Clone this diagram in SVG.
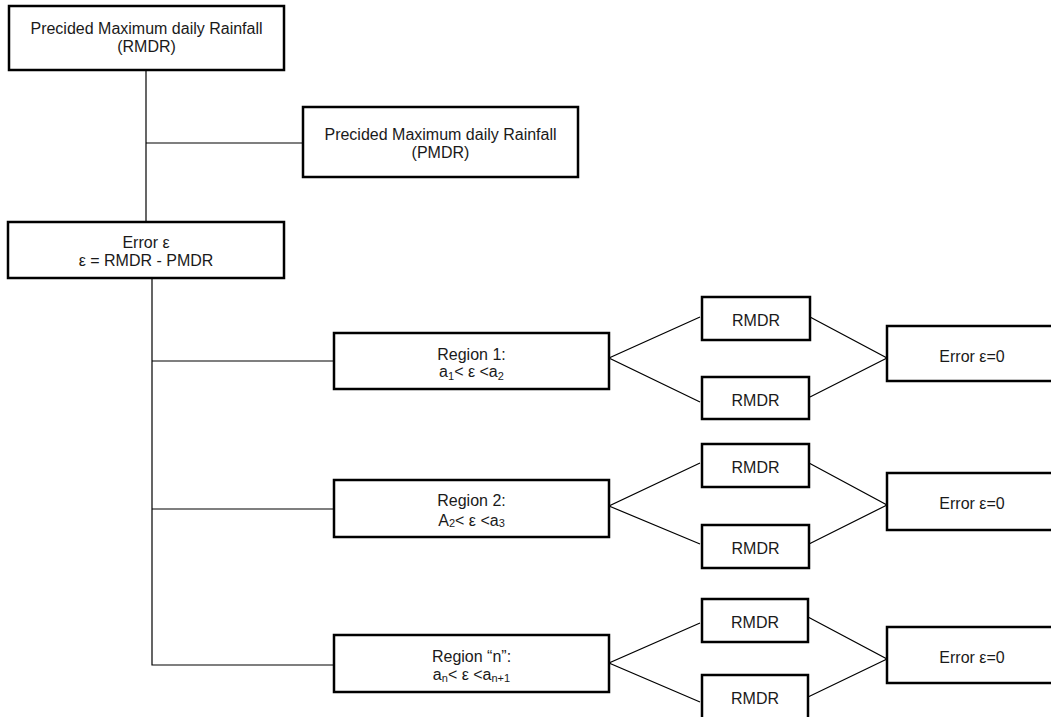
<svg xmlns="http://www.w3.org/2000/svg" width="1051" height="717" viewBox="0 0 1051 717">
<style>
.box{fill:#fff;stroke:#000;stroke-width:2.5}
.t{font-family:"Liberation Sans",Arial,sans-serif;font-size:16px;fill:#1a1a1a;text-anchor:middle}
.s{font-size:11px}
.c{stroke:#000;stroke-width:1.2;fill:none}
</style>
<rect width="1051" height="717" fill="#fff"/>
<g id="connectors">
<polyline class="c" points="146,70 146,222"/>
<line class="c" x1="146" y1="143" x2="303" y2="143"/>
<polyline class="c" points="152,278 152,665 334,665"/>
<line class="c" x1="152" y1="361" x2="334" y2="361"/>
<line class="c" x1="152" y1="509" x2="334" y2="509"/>
<polyline class="c" points="700,317 609,358 700,402"/>
<polyline class="c" points="810,317 887,358 810,397"/>
<polyline class="c" points="700,463 609,506 700,544"/>
<polyline class="c" points="809,463 887,505 809,544"/>
<polyline class="c" points="700,623 609,663 700,702"/>
<polyline class="c" points="808,617 887,659 808,697"/>
</g>
<g id="rmdr-top"><rect class="box" x="9" y="6" width="275" height="64"/><text class="t" x="146.5" y="34">Precided Maximum daily Rainfall</text><text class="t" x="146.5" y="52">(RMDR)</text></g>
<g id="pmdr"><rect class="box" x="303" y="107" width="275" height="70"/><text class="t" x="440.5" y="139.5">Precided Maximum daily Rainfall</text><text class="t" x="440.5" y="157.5">(PMDR)</text></g>
<g id="error"><rect class="box" x="8" y="222" width="276" height="56"/><text class="t" x="146" y="247.5">Error ε</text><text class="t" x="146" y="265.5">ε = RMDR - PMDR</text></g>
<g id="region1"><rect class="box" x="334" y="333" width="275" height="56"/><text class="t" x="471.5" y="359.5">Region 1:</text><text class="t" x="471.5" y="377">a<tspan class="s" dy="3">1</tspan><tspan dy="-3">&lt; ε &lt;a</tspan><tspan class="s" dy="3">2</tspan></text></g>
<g id="region2"><rect class="box" x="334" y="480" width="275" height="57"/><text class="t" x="471.5" y="505.5">Region 2:</text><text class="t" x="471.5" y="525.5">A<tspan class="s" dy="1">2</tspan><tspan dy="-1">&lt; ε &lt;a</tspan><tspan class="s" dy="1">3</tspan></text></g>
<g id="regionn"><rect class="box" x="334" y="635" width="275" height="57"/><text class="t" x="471.5" y="661.5">Region “n”:</text><text class="t" x="471.5" y="680">a<tspan class="s" dy="2">n</tspan><tspan dy="-2">&lt; ε &lt;a</tspan><tspan class="s" dy="2">n+1</tspan></text></g>
<g id="r1a"><rect class="box" x="702" y="297" width="108" height="43"/><text class="t" x="756" y="326">RMDR</text></g>
<g id="r1b"><rect class="box" x="702" y="377" width="107" height="42"/><text class="t" x="755.5" y="406">RMDR</text></g>
<g id="e1"><rect class="box" x="887" y="326" width="170" height="55"/><text class="t" x="972" y="361.5">Error ε=0</text></g>
<g id="r2a"><rect class="box" x="702" y="444" width="107" height="43"/><text class="t" x="755.5" y="473">RMDR</text></g>
<g id="r2b"><rect class="box" x="702" y="525" width="107" height="43"/><text class="t" x="755.5" y="554">RMDR</text></g>
<g id="e2"><rect class="box" x="887" y="473" width="170" height="57"/><text class="t" x="972" y="509">Error ε=0</text></g>
<g id="r3a"><rect class="box" x="702" y="599" width="106" height="43"/><text class="t" x="755" y="628">RMDR</text></g>
<g id="r3b"><rect class="box" x="702" y="675" width="106" height="50"/><text class="t" x="755" y="704">RMDR</text></g>
<g id="e3"><rect class="box" x="887" y="627" width="170" height="56"/><text class="t" x="972" y="662.5">Error ε=0</text></g>
</svg>
